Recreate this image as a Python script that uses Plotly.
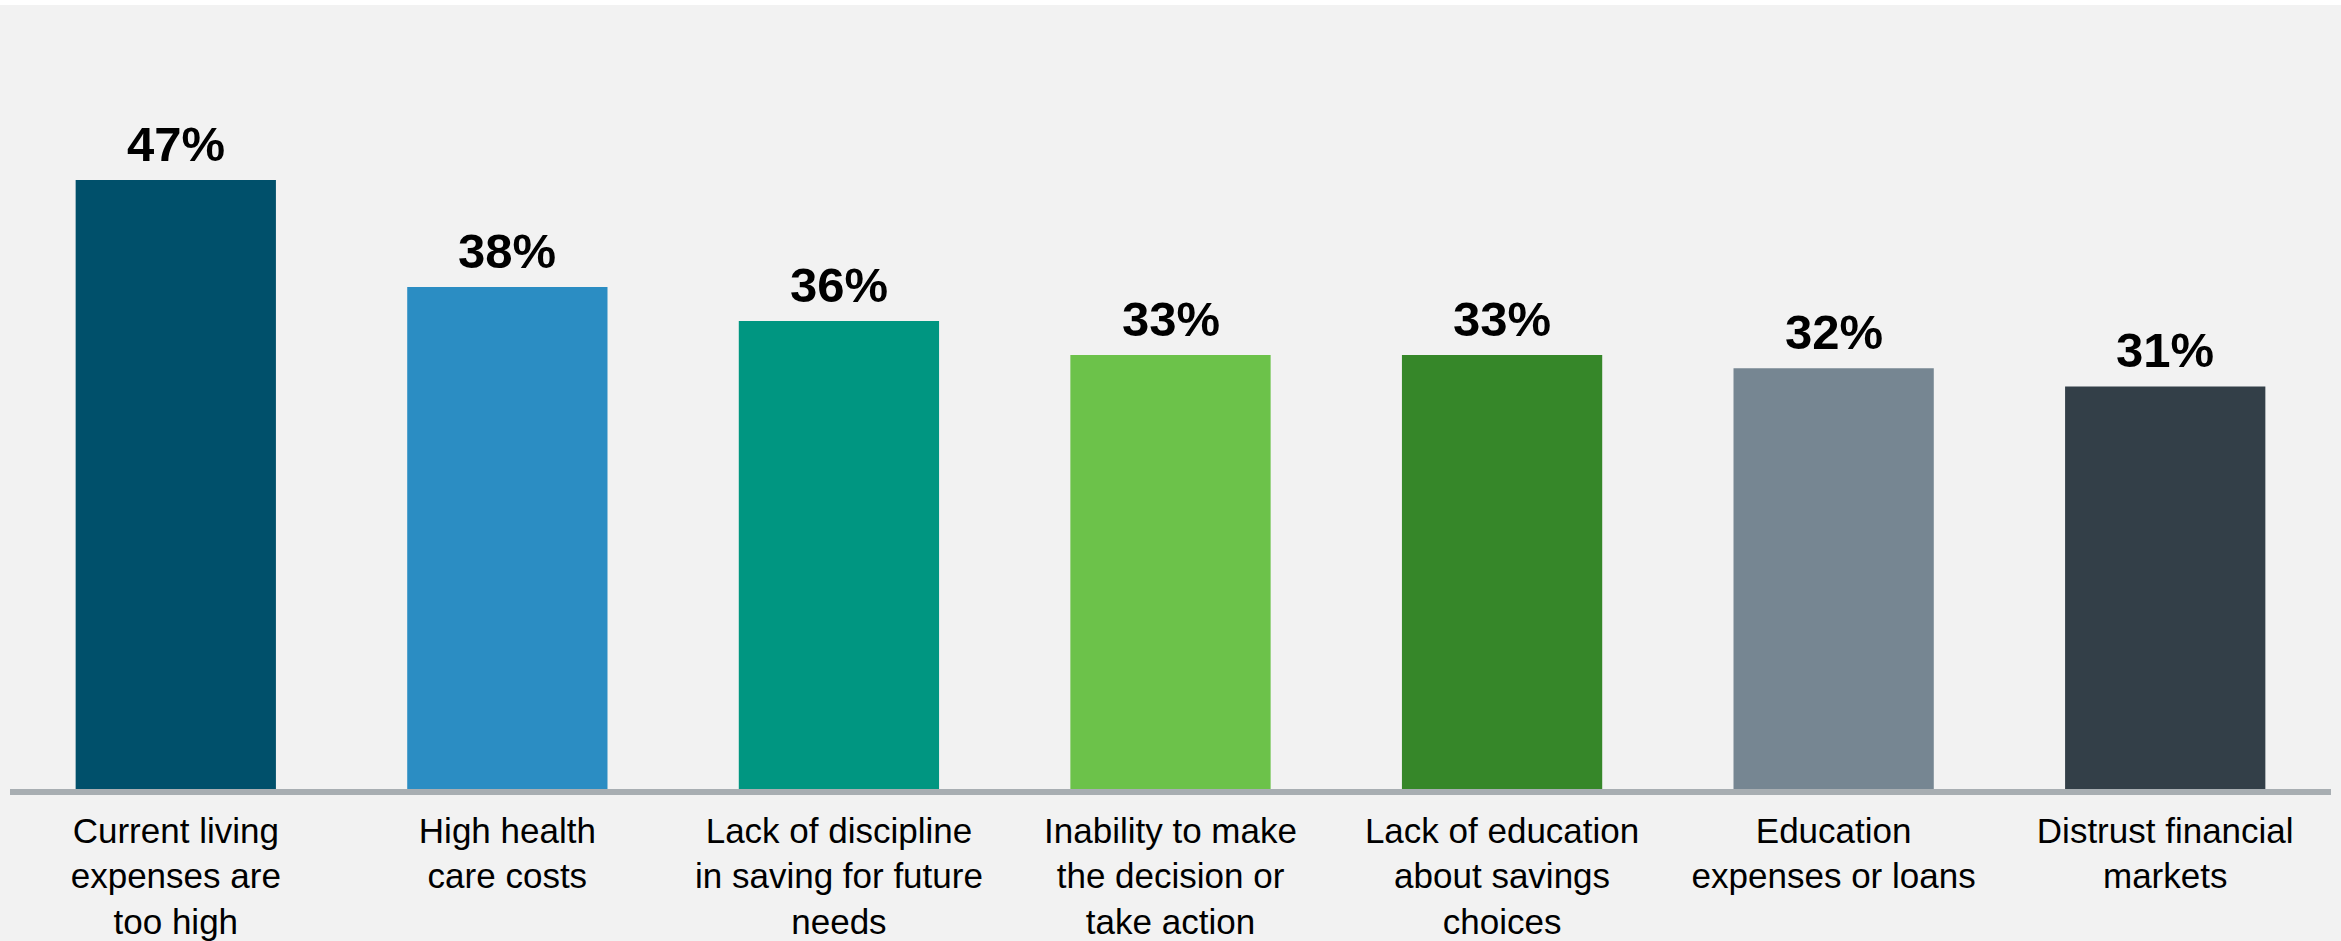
import plotly.graph_objects as go

categories = [
    "Current living<br>expenses are<br>too high",
    "High health<br>care costs",
    "Lack of discipline<br>in saving for future<br>needs",
    "Inability to make<br>the decision or<br>take action",
    "Lack of education<br>about savings<br>choices",
    "Education<br>expenses or loans",
    "Distrust financial<br>markets",
]
values = [46.6, 38.4, 35.8, 33.2, 33.2, 32.2, 30.8]
value_labels = ["47%", "38%", "36%", "33%", "33%", "32%", "31%"]
bar_colors = ["#00506B", "#2B8DC3", "#009681", "#6CC24A", "#368729", "#768692", "#333F48"]

W, H = 2341, 941
T, B = 19, 152
plot_h = H - T - B
y_max = plot_h / 13.07

fig = go.Figure()
fig.add_trace(go.Bar(
    x=list(range(len(categories))),
    y=values,
    marker=dict(color=bar_colors, line=dict(width=0)),
    width=0.604,
    hoverinfo="skip",
))

for i, (v, lab) in enumerate(zip(values, value_labels)):
    fig.add_annotation(
        x=i, y=v, text=lab, showarrow=False,
        yanchor="bottom", yshift=7,
        font=dict(family="Liberation Sans, Arial, sans-serif", size=49,
                  color="#000000", weight="bold"),
    )

fig.add_shape(type="rect", xref="paper", yref="paper",
              x0=-0.01, x1=1.01, y0=1 + (T - 5) / plot_h, y1=1 + (T + 2) / plot_h,
              fillcolor="#FFFFFF", line=dict(width=0), layer="below")

fig.update_layout(
    width=W, height=H,
    autosize=False,
    margin=dict(l=10, r=10, t=T, b=B, pad=0, autoexpand=False),
    paper_bgcolor="#F2F2F2",
    plot_bgcolor="#F2F2F2",
    showlegend=False,
    font=dict(family="Liberation Sans, Arial, sans-serif", color="#000000"),
    xaxis=dict(
        range=[-0.5, len(categories) - 0.5],
        tickmode="array",
        tickvals=list(range(len(categories))),
        ticktext=categories,
        tickfont=dict(size=35, color="#000000"),
        showline=True, linecolor="#A8AEB2", linewidth=5.5,
        showgrid=False, zeroline=False, ticks="",
        ticklabelstandoff=6,
        automargin=False,
        fixedrange=True,
    ),
    yaxis=dict(
        range=[0, y_max],
        visible=False,
        showgrid=False, zeroline=False,
        automargin=False,
        fixedrange=True,
    ),
)

fig.write_html(
    "out.html",
    config={"displayModeBar": False, "responsive": False},
    post_script="document.body.style.margin='0px';document.body.style.padding='0px';",
)
